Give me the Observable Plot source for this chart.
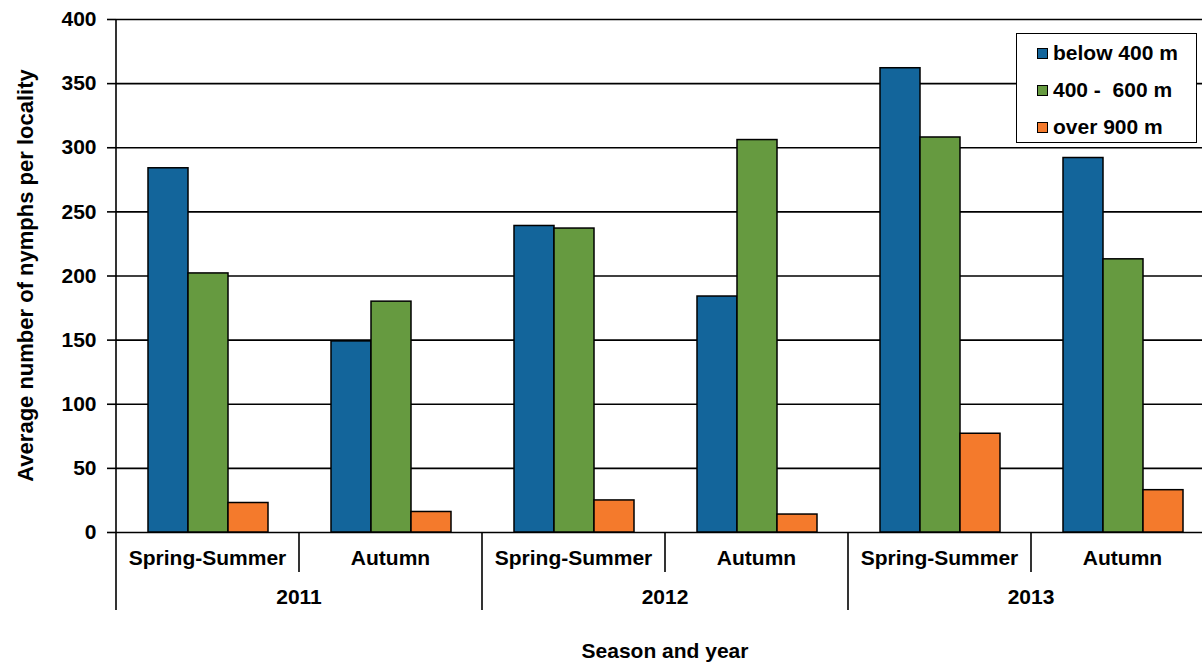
<!DOCTYPE html>
<html><head><meta charset="utf-8">
<script src="https://cdn.jsdelivr.net/npm/d3@7"></script>
<script src="https://cdn.jsdelivr.net/npm/@observablehq/plot@0.6"></script>
<style>
body{margin:0;background:#fff;}
#chart{position:relative;width:1202px;height:665px;overflow:hidden;background:#fff;}
#chart svg{display:block;}
.legend{position:absolute;left:1016px;top:33px;width:181px;height:110px;border:1.5px solid #000;background:#fff;box-sizing:border-box;font:bold 21px "Liberation Sans",Arial,sans-serif;color:#000;}
.legend .row{position:absolute;left:20px;height:24px;line-height:24px;white-space:pre;display:flex;align-items:center;}
.legend .sw{width:9px;height:9px;border:1px solid #000;margin-right:5px;flex:none;}
</style></head>
<body><div id="chart"></div>
<script>
const years = ["2011", "2012", "2013"];
const seasons = ["Spring-Summer", "Autumn"];
const seriesNames = ["below 400 m", "400 -  600 m", "over 900 m"];
const below400 = [284, 149, 239, 184, 362, 292];
const m400to600 = [202, 180, 237, 306, 308, 213];
const over900 = [23, 16, 25, 14, 77, 33];
const colors = ["#13659b", "#669a40", "#f47a2c"];
const yTicks = [0, 50, 100, 150, 200, 250, 300, 350, 400];
const yTitle = "Average number of nymphs per locality";
const xTitle = "Season and year";

const cats = years.flatMap(y => seasons.map(s => ({year: y, season: s, key: y + " " + s})));
const rows = [];
[below400, m400to600, over900].forEach((vals, si) =>
  vals.forEach((v, i) => rows.push({key: cats[i].key, series: seriesNames[si], value: v})));

const font = "'Liberation Sans', Arial, sans-serif";
const plot = Plot.plot({
  width: 1202, height: 665,
  marginTop: 19, marginBottom: 133, marginLeft: 116, marginRight: -12,
  style: {fontFamily: font, fontSize: "21px", fontWeight: "bold", color: "#000", background: "#fff", overflow: "hidden"},
  fx: {domain: cats.map(c => c.key), padding: 0, axis: null},
  x: {domain: seriesNames, paddingInner: 0, paddingOuter: 0.75, axis: null},
  y: {domain: [0, 400], axis: null},
  color: {domain: seriesNames, range: colors},
  marks: [
    Plot.ruleY(yTicks, {stroke: "#000", strokeWidth: 1.6}),
    Plot.barY(rows, {fx: "key", x: "series", y: "value", fill: "series", stroke: "#000", strokeWidth: 1.5}),
    Plot.axisY({ticks: yTicks, tickSize: 9, tickPadding: 11, label: null, strokeWidth: 1.6})
  ]
});

const svg = d3.select(plot);
const fx = plot.scale("fx");
const y = plot.scale("y");
const bw = fx.bandwidth;
const y0 = y.apply(0);
const yTop = y.apply(400);
const g = svg.append("g").attr("stroke", "#000").attr("stroke-width", 1.6);
const t = svg.append("g").attr("font-family", font).attr("font-size", 21).attr("font-weight", "bold").attr("fill", "#000").attr("text-anchor", "middle");
cats.forEach((c, i) => {
  const x0 = fx.apply(c.key);
  const isYearStart = c.season === seasons[0];
  g.append("line").attr("x1", x0).attr("x2", x0)
    .attr("y1", i === 0 ? yTop : y0).attr("y2", y0 + (isYearStart ? 78 : 40));
  t.append("text").attr("x", x0 + bw / 2).attr("y", y0 + 33).text(c.season);
  if (isYearStart) t.append("text").attr("x", x0 + bw).attr("y", y0 + 72).text(c.year);
});
const xEnd = fx.apply(cats[cats.length - 1].key) + bw;
g.append("line").attr("x1", xEnd).attr("x2", xEnd).attr("y1", y0).attr("y2", y0 + 78);
const [r0, r1] = fx.range;
t.append("text").attr("x", (r0 + r1) / 2).attr("y", 658).text(xTitle);
t.append("text").attr("transform", `translate(33,${(yTop + y0) / 2}) rotate(-90)`).attr("font-size", 22).text(yTitle);

const chart = document.getElementById("chart");
chart.appendChild(plot);
const leg = document.createElement("div");
leg.className = "legend";
const colorScale = plot.scale("color");
seriesNames.forEach((s, i) => {
  const row = document.createElement("div");
  row.className = "row";
  row.style.top = (7 + i * 37) + "px";
  const sw = document.createElement("span");
  sw.className = "sw";
  sw.style.background = colorScale.apply(s);
  row.appendChild(sw);
  row.appendChild(document.createTextNode(s));
  leg.appendChild(row);
});
chart.appendChild(leg);
</script>
</body></html>
